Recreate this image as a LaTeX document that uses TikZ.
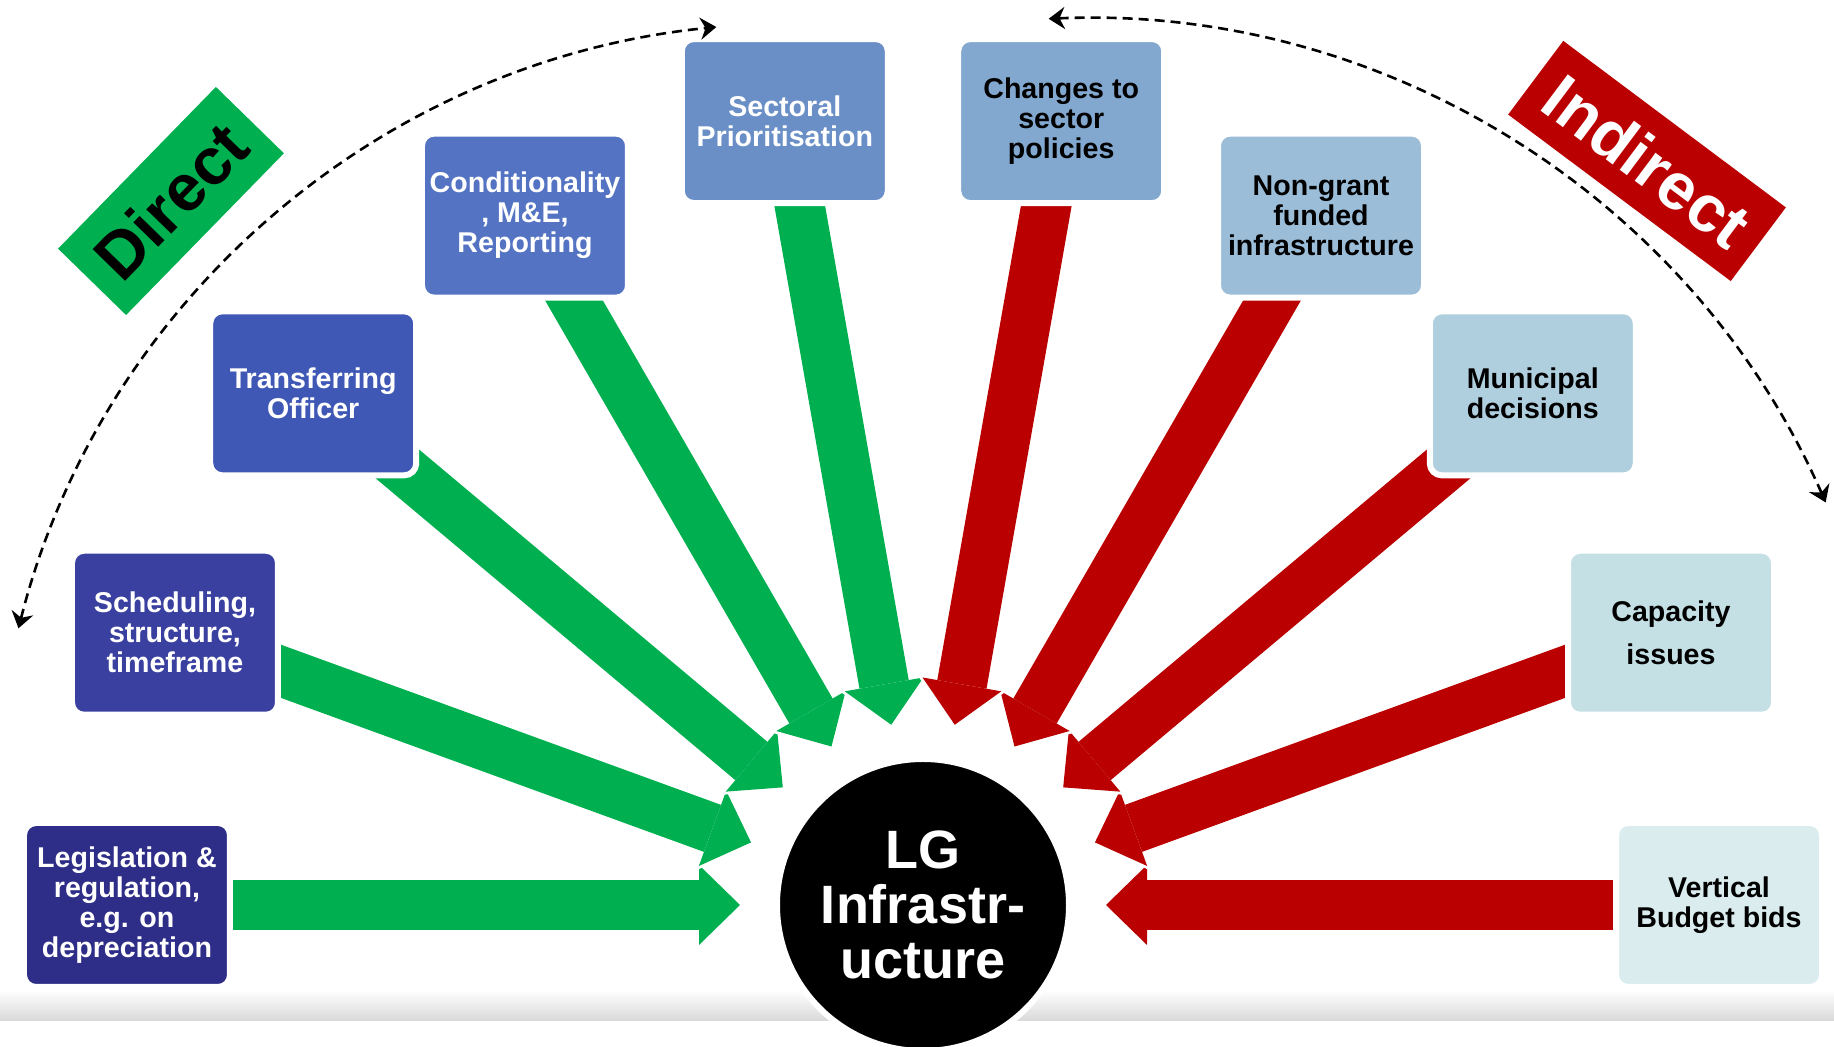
\documentclass[tikz,border=0pt]{standalone}
\usepackage{fontspec}
\setmainfont{Liberation Sans}
\usetikzlibrary{arrows.meta,calc,backgrounds}

\definecolor{boxa}{HTML}{2E2D88}
\definecolor{boxb}{HTML}{3A40A0}
\definecolor{boxc}{HTML}{3F58B5}
\definecolor{boxd}{HTML}{5473C3}
\definecolor{boxe}{HTML}{6A8FC6}
\definecolor{boxf}{HTML}{82A8D0}
\definecolor{boxg}{HTML}{9BBDD8}
\definecolor{boxh}{HTML}{AFCFDF}
\definecolor{boxi}{HTML}{C5E0E5}
\definecolor{boxj}{HTML}{DAECEE}
\definecolor{dgreen}{HTML}{00B050}
\definecolor{dred}{HTML}{BA0000}

\tikzset{
  box/.style={draw=white, line width=3pt, rounded corners=6pt, minimum width=103pt,
    minimum height=82pt, inner sep=0pt, align=center,
    font=\bfseries\fontsize{14.3}{15}\selectfont},
  feedout/.style={draw=white, line width=28pt, -{Triangle[length=23pt,width=46pt,line width=0pt]}},
  feedin/.style={line width=25pt, -{Triangle[length=20.5pt,width=40pt,line width=0pt]}},
  tag/.style={inner sep=0pt, font=\bfseries\fontsize{33}{33}\selectfont},
  sweep/.style={line width=1.3pt, dash pattern=on 5pt off 3pt,
    {Stealth[length=8pt,width=11pt]}-{Stealth[length=8pt,width=11pt]}}
}

\begin{document}
\begin{tikzpicture}[x=0.5pt, y=0.5pt]
  \newcommand\rad{796}
  \newcommand\inflow[2]{%
    \draw[feedout] (#1.center) -- ($(lg)!90pt!(#1)$);
    \draw[feedin, #2] (#1.center) -- ($(lg)!91.5pt!(#1)$);}
  \useasboundingbox (-923,-142) rectangle (911,905);

  \node[circle, fill=black, draw=white, line width=3pt, minimum size=146pt, inner sep=0pt,
    text=white, align=center, font=\bfseries\fontsize{27}{27.5}\selectfont] (lg) at (0,0)
    {LG\\Infrastr-\\ucture};

  \node[box, fill=boxa, text=white] (leg) at (180:\rad) {Legislation \&\\regulation,\\e.g. on\\depreciation};
  \node[box, fill=boxb, text=white] (sch) at (160:\rad) {Scheduling,\\structure,\\timeframe};
  \node[box, fill=boxc, text=white] (tra) at (140:\rad) {Transferring\\Officer};
  \node[box, fill=boxd, text=white] (con) at (120:\rad) {Conditionality\\, M\&E,\\Reporting};
  \node[box, fill=boxe, text=white] (sec) at (100:\rad) {Sectoral\\Prioritisation};
  \node[box, fill=boxf] (cha) at (80:\rad) {Changes to\\sector\\policies};
  \node[box, fill=boxg] (non) at (60:\rad) {Non-grant\\funded\\infrastructure};
  \node[box, fill=boxh] (mun) at (40:\rad) {Municipal\\decisions};
  \node[box, fill=boxi] (cap) at (20:\rad) {Capacity\\[6.5pt]issues};
  \node[box, fill=boxj] (ver) at (0:\rad) {Vertical\\Budget bids};

  \begin{scope}[on background layer]
    \shade[top color=white, bottom color=black!15] (-923,-85) rectangle (911,-116);
    \inflow{leg}{dgreen}
    \inflow{sch}{dgreen}
    \inflow{tra}{dgreen}
    \inflow{con}{dgreen}
    \inflow{sec}{dgreen}
    \inflow{ver}{dred}
    \inflow{cap}{dred}
    \inflow{mun}{dred}
    \inflow{non}{dred}
    \inflow{cha}{dred}
  \end{scope}

  \node[tag, fill=dgreen, minimum width=113pt, minimum height=47.5pt, rotate=45.7] (direct)
    at (-752,704) {Direct};
  \node[tag, fill=dred, text=white, minimum width=139pt, minimum height=46pt, rotate=-36.8] (indirect)
    at (724,744) {Indirect};

  \coordinate (dl) at (-904.5,276.7);
  \coordinate (dr) at (125.7,886.2);
  \draw[sweep] (dl) arc[start angle=165.8, end angle=95.7, radius=802];
  \draw[sweep] (dr) arc[start angle=92.5, end angle=23.7, radius=810];
\end{tikzpicture}
\end{document}
